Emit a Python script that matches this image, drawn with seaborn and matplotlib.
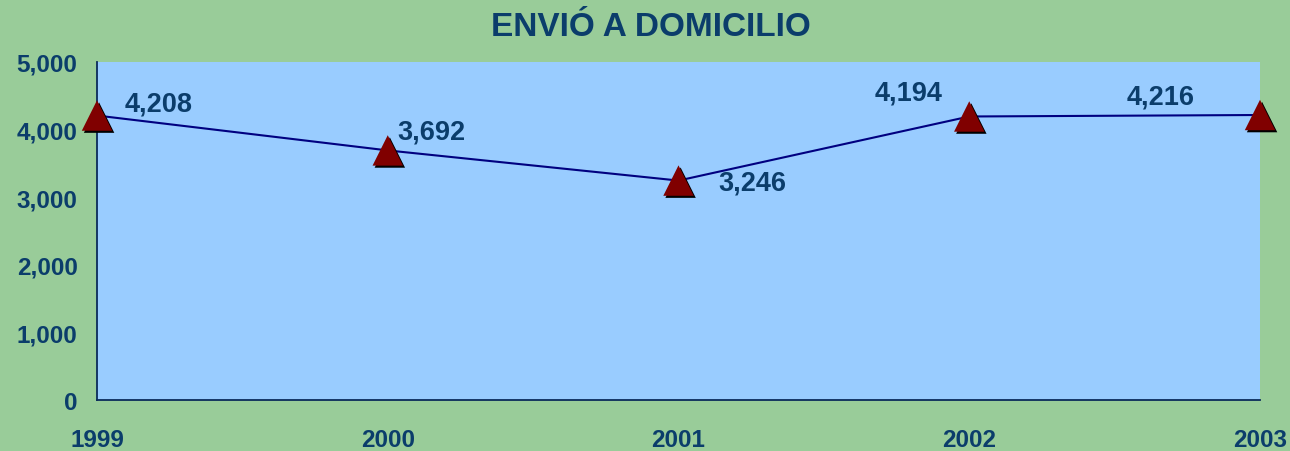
import matplotlib
matplotlib.use("Agg")
import matplotlib.pyplot as plt
import matplotlib.patheffects as pe
import pandas as pd
import seaborn as sns

years = [1999, 2000, 2001, 2002, 2003]
envios = [4208, 3692, 3246, 4194, 4216]
y_ticks = [0, 1000, 2000, 3000, 4000, 5000]

# label offsets in pixels (x, y) and horizontal alignment, as in the original
label_offsets = [(28, 12, "left"), (10, 19, "left"), (40, -2, "left"), (-27, 24, "right"), (-65, 18, "right")]

df = pd.DataFrame({"year": years, "envios": envios})

txt = "#0B3D6B"
sns.set_style("white")
plt.rcParams["font.family"] = ["Liberation Sans", "DejaVu Sans"]
plt.rcParams["font.weight"] = "bold"

fig = plt.figure(figsize=(12.9, 4.52), dpi=100, facecolor="#99CC99")
ax = fig.add_axes([97 / 1290, 51 / 452, 1163 / 1290, 338 / 452])
ax.set_facecolor("#99CCFF")

sns.lineplot(data=df, x="year", y="envios", color="#000080", linewidth=1.5, ax=ax)
sns.scatterplot(data=df, x="year", y="envios", marker="^", s=480, color="#800000",
                edgecolor="none", ax=ax, clip_on=False, zorder=5,
                path_effects=[pe.SimplePatchShadow(offset=(1.5, -1.5), shadow_rgbFace="black", alpha=1),
                              pe.Normal()])

for x, v, (dx, dy, ha) in zip(years, envios, label_offsets):
    ax.annotate(f"{v:,}", (x, v), xytext=(dx, dy), textcoords="offset pixels",
                ha=ha, va="center", fontsize=19.5, fontweight="bold", color=txt)

ax.set_xlim(1999, 2003)
ax.set_ylim(0, 5000)
ax.set_xticks(years)
ax.set_xticklabels([str(y) for y in years])
ax.set_yticks(y_ticks)
ax.set_yticklabels([f"{t:,}" for t in y_ticks])
ax.set_xlabel("")
ax.set_ylabel("")

for s in ["top", "right"]:
    ax.spines[s].set_visible(False)
for s in ["left", "bottom"]:
    ax.spines[s].set_color("#0A2A5A")
    ax.spines[s].set_linewidth(1.3)

ax.tick_params(axis="both", direction="out", length=6, width=1.2, color="#0A2A5A",
               labelsize=17.5, labelcolor=txt)
ax.tick_params(axis="y", pad=8)
ax.tick_params(axis="x", pad=14)
for lab in ax.get_xticklabels() + ax.get_yticklabels():
    lab.set_fontweight("bold")

fig.text(651 / 1290, 1 - 36 / 452, "ENVIÓ A DOMICILIO", ha="center", va="baseline",
         fontsize=24, fontweight="bold", color=txt)

fig.savefig("out.png", dpi=100, facecolor=fig.get_facecolor())
